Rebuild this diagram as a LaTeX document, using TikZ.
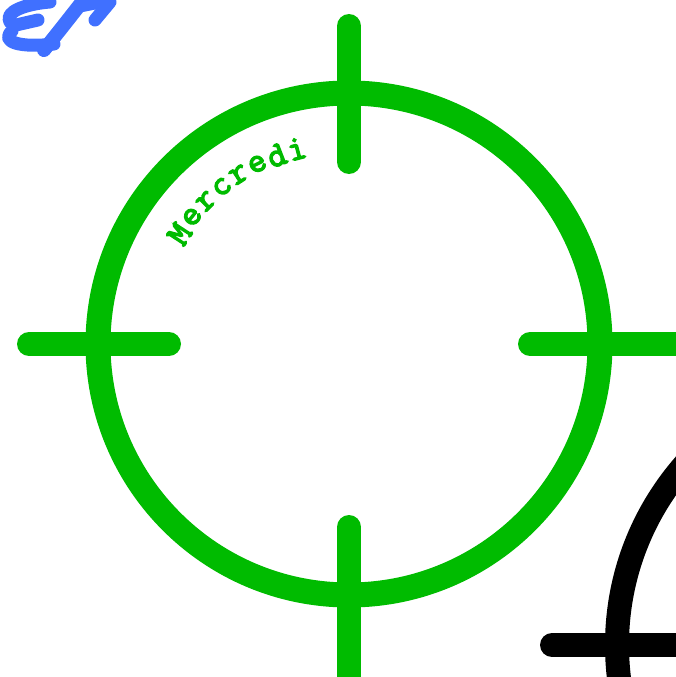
\documentclass[tikz,border=0pt]{standalone}
\usepackage{fontspec}
\newfontfamily\monob[FakeBold=4]{Latin Modern Mono}
\definecolor{cgreen}{RGB}{0,187,0}
\definecolor{cblue}{RGB}{64,112,255}
\tikzset{
  ring/.style={line width=25pt},
  tick/.style={line width=24pt, line cap=round},
  scrib/.style={cblue, line width=13pt, line cap=round, line join=round},
  letter/.style={font=\monob\fontsize{35}{35}\selectfont, text=cgreen, inner sep=0pt}
}
\begin{document}
\begin{tikzpicture}[x=1pt,y=-1pt]
\useasboundingbox (0,0) rectangle (676,677);
\clip (0,0) rectangle (676,677);
% green crosshair
\coordinate (g) at (349,344);
\draw[cgreen, ring] (g) circle[radius=251];
\coordinate (gt1) at (349,26); \coordinate (gt2) at (349,162);
\coordinate (gb1) at (349,527); \coordinate (gb2) at (349,700);
\coordinate (gl1) at (29,344); \coordinate (gl2) at (169,344);
\coordinate (gr1) at (530,344); \coordinate (gr2) at (700,344);
\draw[cgreen, tick] (gt1) -- (gt2);
\draw[cgreen, tick] (gb1) -- (gb2);
\draw[cgreen, tick] (gl1) -- (gl2);
\draw[cgreen, tick] (gr1) -- (gr2);
% black crosshair (partly visible)
\coordinate (k) at (891,645);
\draw[black, line width=24pt] (k) circle[radius=274];
\coordinate (kl1) at (552,645); \coordinate (kl2) at (720,645);
\draw[black, tick] (kl1) -- (kl2);
% Mercredi text along arc
\foreach \ch [count=\i from 0] in {M,e,r,c,r,e,d,i} {
  \pgfmathsetmacro{\ang}{147-\i*6.0}
  \node[letter, rotate=\ang-90] (m\i) at ({349+202*cos(\ang)},{344-202*sin(\ang)}) {\ch};
}
% blue scribble
\coordinate (e1) at (50,2);
\coordinate (e2) at (10,22);
\coordinate (e3) at (16,25); \coordinate (e4) at (38,20);
\coordinate (e5) at (12,31); \coordinate (e6) at (54,44);
\coordinate (d1) at (44,50); \coordinate (d2) at (82,2);
\coordinate (r1) at (95,20); \coordinate (r2) at (110,2);
\draw[scrib] (e1) .. controls (25,4) and (4,12) .. (e2);
\draw[scrib] (e3) -- (e4);
\draw[scrib] (e5) .. controls (0,42) and (20,48) .. (e6);
\draw[scrib, line width=14pt] (d1) .. controls (60,30) .. (d2);
\draw[scrib] (r1) -- (r2);
\draw[scrib] (80,6) -- (100,2);
\end{tikzpicture}
\end{document}
